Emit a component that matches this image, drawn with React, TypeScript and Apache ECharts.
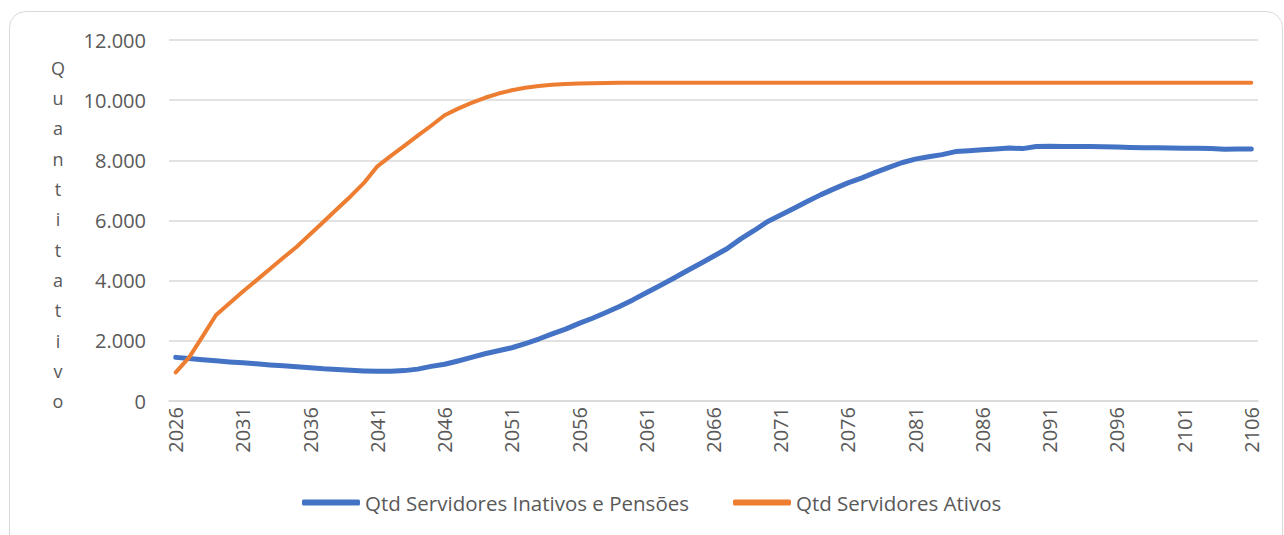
import React, { useEffect, useRef } from "react";
import * as echarts from "echarts";

const years: string[] = Array.from({ length: 81 }, (_, i) => String(2026 + i));

const inativos: number[] = [
  1450, 1410, 1370, 1335, 1300, 1270, 1235, 1200, 1170, 1140,
  1105, 1070, 1045, 1020, 1000, 985, 985, 1010, 1060, 1150,
  1220, 1330, 1450, 1570, 1670, 1770, 1910, 2060, 2230, 2390,
  2580, 2750, 2940, 3140, 3360, 3600, 3830, 4070, 4320, 4560,
  4810, 5060, 5380, 5660, 5960, 6180, 6410, 6640, 6860, 7060,
  7250, 7410, 7590, 7760, 7920, 8040, 8120, 8190, 8290, 8320,
  8350, 8380, 8410, 8390, 8460, 8470, 8460, 8460, 8460, 8450,
  8440, 8430, 8420, 8420, 8410, 8400, 8400, 8390, 8370, 8380,
  8380,
];

const ativos: number[] = [
  950, 1450, 2150, 2860, 3250, 3640, 4010, 4390, 4760, 5130,
  5540, 5960, 6380, 6800, 7250, 7800, 8150, 8480, 8820, 9150,
  9500, 9720, 9910, 10080, 10220, 10330, 10410, 10470, 10510, 10535,
  10550, 10560, 10570, 10575, 10580, 10580, 10580, 10580, 10580, 10580,
  10580, 10580, 10580, 10580, 10580, 10580, 10580, 10580, 10580, 10580,
  10580, 10580, 10580, 10580, 10580, 10580, 10580, 10580, 10580, 10580,
  10580, 10580, 10580, 10580, 10580, 10580, 10580, 10580, 10580, 10580,
  10580, 10580, 10580, 10580, 10580, 10580, 10580, 10580, 10580, 10580,
  10580,
];

const seriesNames = ["Qtd Servidores Inativos e Pensões", "Qtd Servidores Ativos"];
const axisTitle = "Quantitativo";

const FONT = "'Open Sans', sans-serif";
const GRAY = "#595959";

export default function App() {
  const ref = useRef<HTMLDivElement>(null);
  useEffect(() => {
    if (!ref.current) return;
    const chart = echarts.init(ref.current, undefined, { renderer: "svg" });
    chart.setOption({
      animation: false,
      backgroundColor: "#ffffff",
      grid: { left: 169, right: 26, top: 40, bottom: 134, containLabel: false },
      graphic: [
        {
          type: "rect",
          shape: { x: 9.5, y: 11.5, width: 1273, height: 540, r: 16 },
          style: { fill: "none", stroke: "#d9d9d9", lineWidth: 1 },
          silent: true,
          z: -1,
        },
        {
          type: "text",
          x: 58,
          y: 234.5,
          style: {
            text: axisTitle.split("").join("\n"),
            font: `18px ${FONT}`,
            fill: GRAY,
            align: "center",
            verticalAlign: "middle",
            lineHeight: 30.3,
          },
        },
      ],
      legend: {
        bottom: 17,
        left: 297,
        itemGap: 44,
        itemWidth: 58,
        itemHeight: 6,
        icon: "roundRect",
        textStyle: { fontFamily: FONT, fontSize: 20.5, color: GRAY },
        data: seriesNames,
      },
      xAxis: {
        type: "category",
        data: years,
        boundaryGap: true,
        axisLine: { lineStyle: { color: "#d9d9d9", width: 1.5 } },
        axisTick: { show: false },
        axisLabel: {
          interval: 4,
          rotate: 90,
          margin: 6,
          fontFamily: FONT,
          fontSize: 20,
          color: GRAY,
        },
      },
      yAxis: {
        type: "value",
        min: 0,
        max: 12000,
        interval: 2000,
        axisLine: { show: false },
        axisTick: { show: false },
        splitLine: { lineStyle: { color: "#d9d9d9", width: 1.5 } },
        axisLabel: {
          margin: 23,
          fontFamily: FONT,
          fontSize: 20,
          color: GRAY,
          formatter: (v: number) => v.toLocaleString("de-DE"),
        },
      },
      series: [
        {
          name: seriesNames[0],
          type: "line",
          data: inativos,
          showSymbol: false,
          symbol: "none",
          lineStyle: { color: "#4472C4", width: 5, cap: "round", join: "round" },
          itemStyle: { color: "#4472C4" },
        },
        {
          name: seriesNames[1],
          type: "line",
          data: ativos,
          showSymbol: false,
          symbol: "none",
          lineStyle: { color: "#ED7D31", width: 4, cap: "round", join: "round" },
          itemStyle: { color: "#ED7D31" },
        },
      ],
    });
    return () => chart.dispose();
  }, []);
  return (
    <div
      ref={ref}
      style={{ position: "fixed", left: 0, top: 0, width: 1284, height: 535 }}
    />
  );
}
